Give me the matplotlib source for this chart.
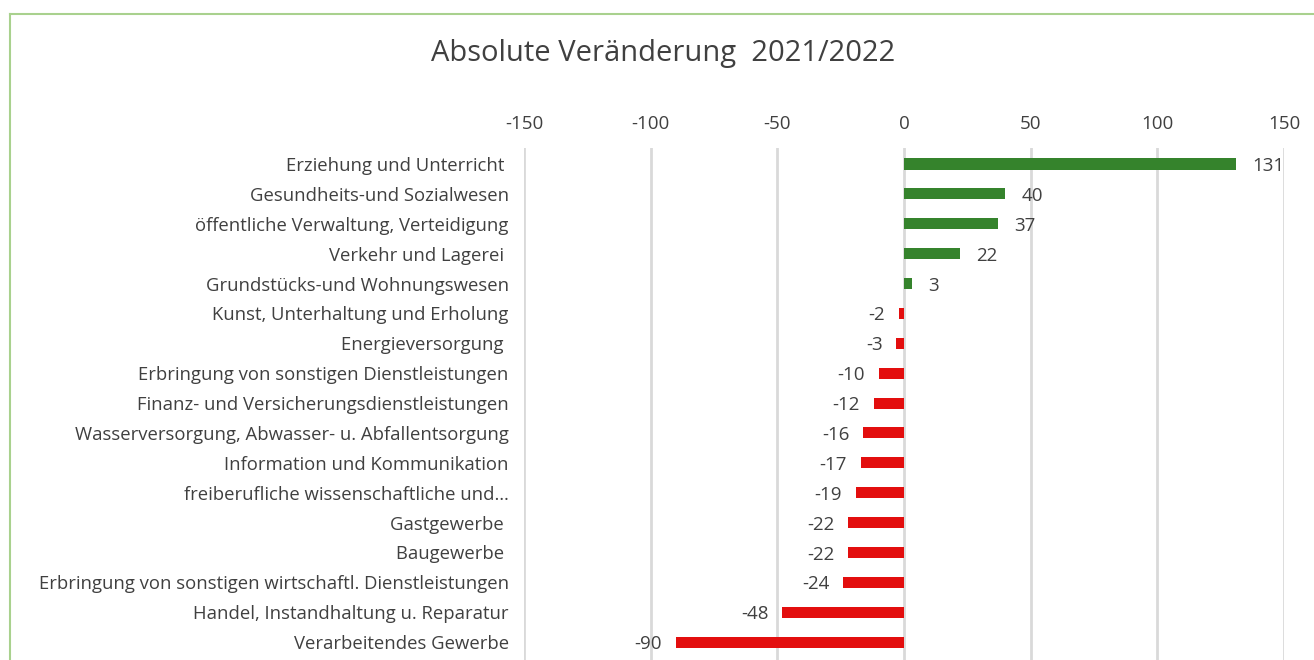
# Absolute Veränderung 2021/2022 - horizontales Balkendiagramm
import matplotlib.pyplot as plt
from matplotlib.lines import Line2D
import numpy as np

plt.rcParams['font.family'] = ['Open Sans', 'DejaVu Sans']

branchen = [
    "Erziehung und Unterricht ",
    "Gesundheits-und Sozialwesen",
    "öffentliche Verwaltung, Verteidigung",
    "Verkehr und Lagerei ",
    "Grundstücks-und Wohnungswesen",
    "Kunst, Unterhaltung und Erholung",
    "Energieversorgung ",
    "Erbringung von sonstigen Dienstleistungen",
    "Finanz- und Versicherungsdienstleistungen",
    "Wasserversorgung, Abwasser- u. Abfallentsorgung",
    "Information und Kommunikation",
    "freiberufliche wissenschaftliche und…",
    "Gastgewerbe ",
    "Baugewerbe ",
    "Erbringung von sonstigen wirtschaftl. Dienstleistungen",
    "Handel, Instandhaltung u. Reparatur",
    "Verarbeitendes Gewerbe",
]
veraenderung = [131, 40, 37, 22, 3, -2, -3, -10, -12, -16, -17, -19, -22, -22, -24, -48, -90]
x_ticks = [-150, -100, -50, 0, 50, 100, 150]

GRUEN = '#35832c'
ROT = '#e30e0e'
TEXT = '#404040'

fig = plt.figure(figsize=(13.14, 6.6), dpi=100)
ax = fig.add_axes([524/1314, 0.0, 760/1314, 1 - 148/660])

y = np.arange(len(branchen))
farben = [GRUEN if v > 0 else ROT for v in veraenderung]
ax.barh(y, veraenderung, height=0.37, color=farben, zorder=3)

ax.set_xlim(-150, 150)
ax.set_ylim(16.6, -0.535)
ax.set_xticks(x_ticks)
ax.set_xticklabels([str(t) for t in x_ticks])
ax.xaxis.tick_top()
ax.tick_params(axis='x', length=0, pad=11, labelsize=13.5, labelcolor=TEXT)
ax.set_yticks(y)
ax.set_yticklabels(branchen)
ax.tick_params(axis='y', length=0, pad=11, labelsize=13.3, labelcolor=TEXT)
ax.grid(axis='x', color='#d9d9d9', linewidth=2, zorder=0)
for s in ax.spines.values():
    s.set_visible(False)

# Datenbeschriftungen
for yi, v in zip(y, veraenderung):
    if v > 0:
        ax.annotate(str(v), (v, yi), xytext=(12, -1.5), textcoords='offset points',
                    ha='left', va='center', fontsize=13.5, color=TEXT)
    else:
        ax.annotate(str(v), (v, yi), xytext=(-10, -1.5), textcoords='offset points',
                    ha='right', va='center', fontsize=13.5, color=TEXT)

fig.text(663/1314, 1 - 53/660, "Absolute Veränderung  2021/2022", ha='center', va='center',
         fontsize=21, color=TEXT)

# Rahmen (grün, oben und links)
fig.add_artist(Line2D([10/1314, 10/1314], [0, 1 - 14/660], color='#a9d18e', linewidth=1.5))
fig.add_artist(Line2D([10/1314, 1], [1 - 14/660, 1 - 14/660], color='#a9d18e', linewidth=1.5))

fig.savefig('out.png', dpi=100)
